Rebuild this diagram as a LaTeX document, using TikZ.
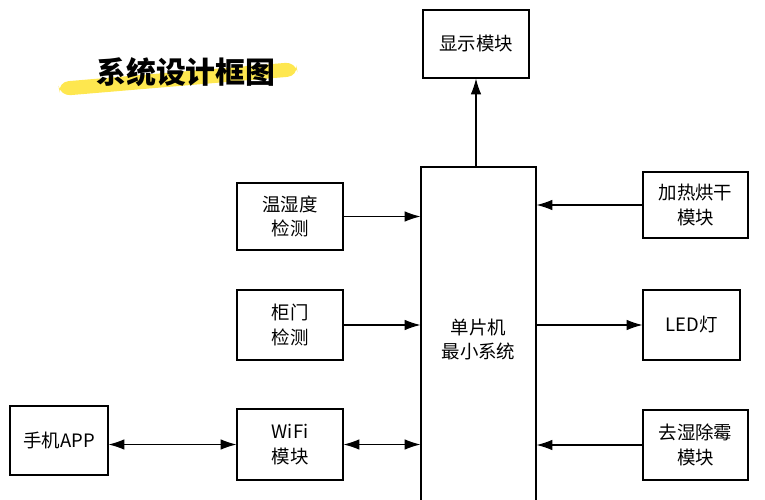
\documentclass[tikz,border=0pt]{standalone}
\usepackage{fontspec}
\newfontfamily\cjk{Noto Sans CJK SC}
\usetikzlibrary{arrows.meta}
\begin{document}
\begin{tikzpicture}[x=0.02cm,y=-0.02cm,
  blk/.style={draw,semithick,inner sep=0pt,align=center,font=\cjk\fontsize{10.5}{14}\selectfont},
  arr/.style={semithick,-{Latex[length=9pt,width=6pt]}},
  darr/.style={semithick,{Latex[length=9pt,width=6pt]}-{Latex[length=9pt,width=6pt]}}]
\useasboundingbox (0,0) rectangle (765,500);
\node[blk,minimum width=106*0.02cm,minimum height=68*0.02cm] (disp) at (476,44) {显示模块};
\node[blk,minimum width=115*0.02cm,minimum height=345*0.02cm] (mcu) at (478.5,339.5) {单片机\\最小系统};
\node[blk,minimum width=106*0.02cm,minimum height=67*0.02cm] (th) at (290,216.5) {温湿度\\检测};
\node[blk,minimum width=106*0.02cm,minimum height=70*0.02cm] (door) at (290,325) {柜门\\检测};
\node[blk,minimum width=106*0.02cm,minimum height=71*0.02cm] (wifi) at (290,444.5) {WiFi\\模块};
\node[blk,minimum width=98*0.02cm,minimum height=69*0.02cm] (app) at (59,440.5) {手机APP};
\node[blk,minimum width=105*0.02cm,minimum height=66*0.02cm] (heat) at (695.5,205) {加热烘干\\模块};
\node[blk,minimum width=97*0.02cm,minimum height=70*0.02cm] (led) at (691.5,325) {LED灯};
\node[blk,minimum width=105*0.02cm,minimum height=70*0.02cm] (dehum) at (695.5,445) {去湿除霉\\模块};
% title
\fill[yellow!80!orange,opacity=0.7,rounded corners=6pt] (58,82) -- (296,62) -- (298,76) -- (60,96) -- cycle;
\node[font=\cjk\bfseries\itshape\fontsize{17}{20}\selectfont] (title) at (186,72) {系统设计框图};
% connectors
\draw[arr] (disp.south |- mcu.north) -- (disp.south);
\draw[arr] (th.east) -- (th.east -| mcu.west);
\draw[arr] (door.east) -- (door.east -| mcu.west);
\draw[darr] (wifi.east) -- (wifi.east -| mcu.west);
\draw[darr] (app.east |- wifi.west) -- (wifi.west);
\draw[arr] (heat.west) -- (heat.west -| mcu.east);
\draw[arr] (led.west -| mcu.east) -- (led.west);
\draw[arr] (dehum.west) -- (dehum.west -| mcu.east);
\end{tikzpicture}
\end{document}
